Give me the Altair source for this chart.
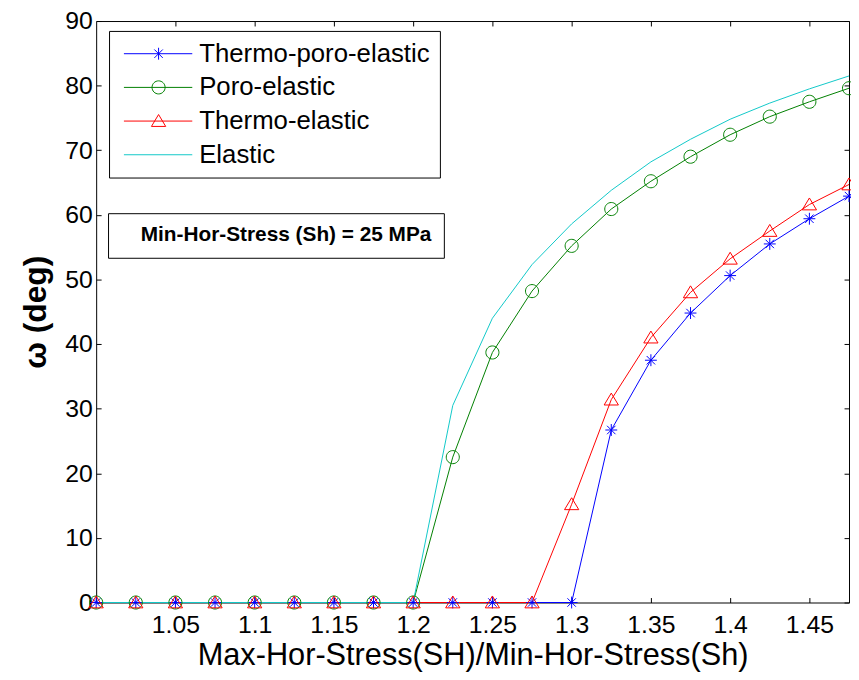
import altair as alt
import pandas as pd

# ---------------- data ----------------
x_vals = [1.0, 1.025, 1.05, 1.075, 1.1, 1.125, 1.15, 1.175, 1.2, 1.225,
          1.25, 1.275, 1.3, 1.325, 1.35, 1.375, 1.4, 1.425, 1.45, 1.475]

thermo_poro_elastic = [0, 0, 0, 0, 0, 0, 0, 0, 0, 0,
                       0, 0, 0, 26.7, 37.5, 44.8, 50.6, 55.5, 59.4, 62.9]
poro_elastic = [0, 0, 0, 0, 0, 0, 0, 0, 0, 22.5,
                38.7, 48.2, 55.2, 60.9, 65.2, 69.0, 72.4, 75.2, 77.5, 79.6]
thermo_elastic = [0, 0, 0, 0, 0, 0, 0, 0, 0, 0,
                  0, 0, 15.2, 31.4, 41.0, 48.0, 53.2, 57.5, 61.6, 64.7]
elastic = [0, 0, 0, 0, 0, 0, 0, 0, 0, 30.5,
           44.0, 52.3, 58.6, 63.8, 68.2, 71.7, 74.8, 77.3, 79.5, 81.5]

series_names = ["Thermo-poro-elastic", "Poro-elastic", "Thermo-elastic", "Elastic"]
series_colors = ["#0000ff", "#008000", "#ff0000", "#10c8c8"]

x_ticks = [1.05, 1.1, 1.15, 1.2, 1.25, 1.3, 1.35, 1.4, 1.45]
y_ticks = [0, 10, 20, 30, 40, 50, 60, 70, 80, 90]

x_title = "Max-Hor-Stress(SH)/Min-Hor-Stress(Sh)"
y_title = "ω (deg)"
note_text = "Min-Hor-Stress (Sh) = 25 MPa"

# marker shapes (unit square paths) for the data points
marker_paths = [
    "M0,-1L0,1M-1,0L1,0M-0.71,-0.71L0.71,0.71M-0.71,0.71L0.71,-0.71",
    "M-1.1,0A1.1,1.1,0,1,1,1.1,0A1.1,1.1,0,1,1,-1.1,0Z",
    "M0,-1.1L1.2,0.9L-1.2,0.9Z",
]
# legend symbols: short line with the marker in its middle
legend_paths = [
    "M-1.33,0L10.17,0M4.5,-1L4.5,1M3.79,-0.71L5.21,0.71M3.79,0.71L5.21,-0.71",
    "M-1.33,0L10.17,0M3.4,0A1.1,1.1,0,1,1,5.6,0A1.1,1.1,0,1,1,3.4,0Z",
    "M-1.33,0L10.17,0M4.5,-1.1L5.7,0.9L3.3,0.9Z",
    "M-1.33,0L10.17,0",
]

rows = []
for name, vals in zip(series_names, [thermo_poro_elastic, poro_elastic, thermo_elastic, elastic]):
    for xv, yv in zip(x_vals, vals):
        rows.append({"ratio": xv, "omega": yv, "series": name})
df = pd.DataFrame(rows)
legend_df = pd.DataFrame({"series": series_names})
note_df = pd.DataFrame({"note": [note_text]})

FONT = "Liberation Sans"

xscale = alt.Scale(domain=[1.0, 1.475], nice=False, zero=False)
yscale = alt.Scale(domain=[0, 90], nice=False, zero=False)


def color_scale():
    return alt.Scale(domain=series_names, range=series_colors)


x_bottom = alt.Axis(values=x_ticks, format="~g", orient="bottom", offset=-5, tickSize=5,
                    domain=False, grid=False, labelFontSize=25, labelPadding=10, labelFont=FONT,
                    labelFlush=False, labelOverlap=False, title=x_title, titleFont=FONT,
                    titleFontSize=31, titleFontWeight="normal", titlePadding=4)
y_left = alt.Axis(values=y_ticks, orient="left", offset=-5, tickSize=5, domain=False,
                  grid=False, labelFontSize=25, labelPadding=4, labelFont=FONT,
                  labelFlush=False, labelOverlap=False, title=y_title, titleFont=FONT,
                  titleFontSize=32, titleFontWeight="bold", titlePadding=12)
x_top = alt.Axis(values=x_ticks, orient="top", offset=-5, tickSize=5, domain=False,
                 grid=False, labels=False, title="")
y_right = alt.Axis(values=y_ticks, orient="right", offset=-5, tickSize=5, domain=False,
                   grid=False, labels=False, title="")

lines = alt.Chart(df).mark_line(strokeWidth=1).encode(
    x=alt.X("ratio:Q", scale=xscale, axis=x_bottom),
    y=alt.Y("omega:Q", scale=yscale, axis=y_left),
    color=alt.Color("series:N", scale=color_scale(), legend=None),
)

points = alt.Chart(df).transform_filter(
    "datum.series != 'Elastic'"
).mark_point(filled=False, strokeWidth=1, size=144, opacity=1).encode(
    x=alt.X("ratio:Q", scale=xscale, axis=x_top),
    y=alt.Y("omega:Q", scale=yscale, axis=y_right),
    color=alt.Color("series:N", scale=color_scale(), legend=None),
    shape=alt.Shape("series:N", scale=alt.Scale(domain=series_names[:3], range=marker_paths),
                    legend=None),
)

series_legend = alt.Legend(orient="none", legendX=13, legendY=10, title=None,
                           strokeColor="black", fillColor="white", padding=10,
                           symbolSize=144, symbolStrokeWidth=1, symbolOpacity=1,
                           labelFontSize=26, labelFont=FONT, labelColor="black",
                           labelOffset=55, rowPadding=8, labelLimit=500)

legend_layer = alt.Chart(legend_df).mark_point(
    filled=False, opacity=0, size=0, strokeWidth=0
).encode(
    shape=alt.Shape("series:N", scale=alt.Scale(domain=series_names, range=legend_paths),
                    legend=series_legend),
    color=alt.Color("series:N", scale=color_scale(), legend=series_legend),
)

note_legend = alt.Legend(orient="none", legendX=12, legendY=194, title=None,
                         strokeColor="black", fillColor="white", padding=12,
                         symbolSize=0, symbolOpacity=0, labelOffset=0,
                         labelFontSize=21, labelFontWeight="bold", labelFont=FONT,
                         labelColor="black", labelLimit=500)

note_layer = alt.Chart(note_df).mark_point(
    size=0, strokeWidth=0, fillOpacity=0, strokeOpacity=0
).encode(
    opacity=alt.Opacity("note:N", scale=alt.Scale(domain=[note_text], range=[0]),
                        legend=note_legend),
)

chart = alt.layer(lines, points, legend_layer, note_layer).resolve_scale(
    shape="independent", color="independent"
).resolve_axis(
    x="independent", y="independent"
).properties(
    width=760, height=587,
    autosize=alt.AutoSizeParams(type="none"),
    padding={"left": 89, "top": 10, "right": 2, "bottom": 67},
    background="white",
).configure_view(
    stroke="black", strokeWidth=1
).configure_axis(
    tickColor="black", labelColor="black", titleColor="black"
)

chart.save("out.html", embed_options={"renderer": "svg", "actions": False})
